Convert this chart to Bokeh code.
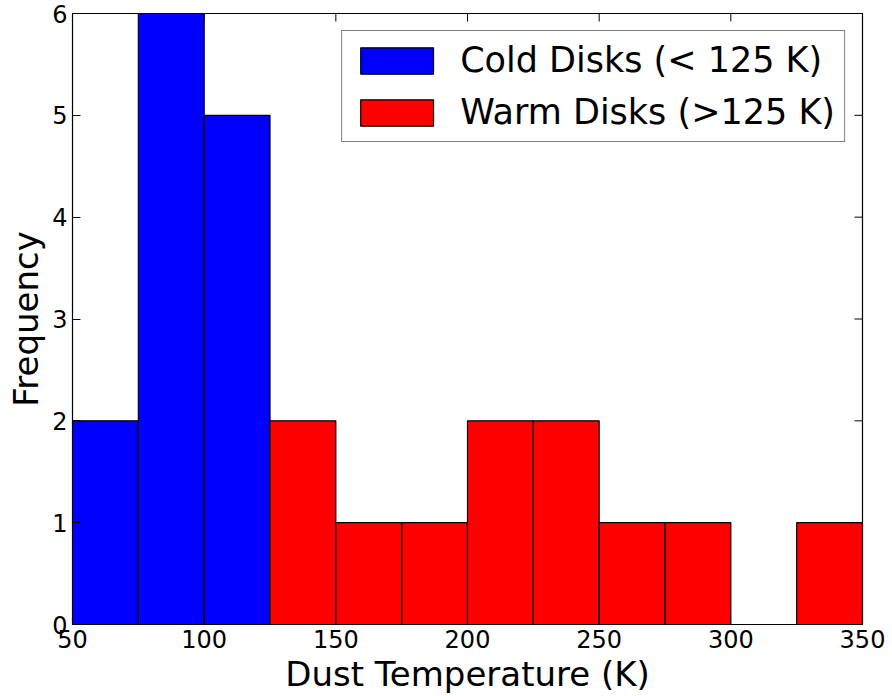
import math
from bokeh.plotting import figure
from bokeh.models import Range1d, LinearAxis, FixedTicker, Legend, LegendItem
from bokeh.embed import file_html
from bokeh.resources import INLINE

# Histogram bin edges (K) and counts per bin
bin_edges = [50, 75, 100, 125, 150, 175, 200, 225, 250, 275, 300, 325, 350]
cold_counts = [2, 6, 5, 0, 0, 0, 0, 0, 0, 0, 0, 0]
warm_counts = [0, 0, 0, 2, 1, 1, 2, 2, 1, 1, 0, 1]

x_ticks = [50, 100, 150, 200, 250, 300, 350]
y_ticks = [0, 1, 2, 3, 4, 5, 6]

FONT = "DejaVu Sans"
X_MIN, X_MAX = 50, 350
Y_MIN, Y_MAX = 0, 6
TICK_LEN = 8

p = figure(width=892, height=696, output_backend="svg", toolbar_location=None,
           x_range=Range1d(X_MIN, X_MAX), y_range=Range1d(Y_MIN, Y_MAX),
           min_border_left=72, min_border_right=30, min_border_top=13, min_border_bottom=71,
           x_axis_location=None, y_axis_location=None)
p.grid.visible = False
p.outline_line_color = "black"
p.outline_line_width = 1.2
p.background_fill_color = "white"
p.border_fill_color = "white"

def bins(counts):
    left, right, top = [], [], []
    for i, c in enumerate(counts):
        if c > 0:
            left.append(bin_edges[i]); right.append(bin_edges[i + 1]); top.append(c)
    return dict(left=left, right=right, top=top, bottom=[0] * len(top))

cold = p.quad(source=bins(cold_counts), left="left", right="right", top="top", bottom="bottom",
              fill_color="#0000ff", line_color="black", line_width=1.2)
warm = p.quad(source=bins(warm_counts), left="left", right="right", top="top", bottom="bottom",
              fill_color="#ff0000", line_color="black", line_width=1.2)

def style_axis(ax):
    ax.axis_line_color = "black"
    ax.major_tick_in = TICK_LEN
    ax.major_tick_out = 0
    ax.minor_tick_in = 0
    ax.minor_tick_out = 0
    ax.major_tick_line_color = "black"
    ax.major_label_text_font = FONT
    ax.major_label_text_font_size = "24px"
    ax.major_label_text_color = "black"
    ax.major_label_standoff = 5
    ax.axis_label_text_font = FONT
    ax.axis_label_text_font_size = "34px"
    ax.axis_label_text_font_style = "normal"
    ax.axis_label_text_color = "black"
    ax.axis_label_standoff = 3

xb = LinearAxis(ticker=FixedTicker(ticks=x_ticks), axis_label="Dust Temperature (K)")
yl = LinearAxis(ticker=FixedTicker(ticks=y_ticks), axis_label="Frequency")
style_axis(xb); style_axis(yl)
p.add_layout(xb, "below")
p.add_layout(yl, "left")

# inward ticks on the top and right edges of the frame
p.ray(x=x_ticks, y=[Y_MAX] * len(x_ticks), length=TICK_LEN, length_units="screen",
      angle=-math.pi / 2, line_color="black", line_width=1)
p.ray(x=[X_MAX] * len(y_ticks), y=y_ticks, length=TICK_LEN, length_units="screen",
      angle=math.pi, line_color="black", line_width=1)

legend = Legend(items=[LegendItem(label="Cold Disks (< 125 K)", renderers=[cold]),
                       LegendItem(label="Warm Disks (>125 K)", renderers=[warm])],
                location="top_right", margin=17)
legend.label_text_font = FONT
legend.label_text_font_size = "35px"
legend.label_text_color = "black"
# area swatches are inset by 10% on each side, so the boxes come out about 73x26
legend.glyph_width = 91
legend.glyph_height = 33
legend.label_standoff = 18
legend.padding = 9
legend.spacing = 12
legend.border_line_color = "black"
legend.border_line_width = 1.2
legend.background_fill_alpha = 1
p.add_layout(legend, "center")

open("out.html", "w").write(file_html(p, INLINE))
